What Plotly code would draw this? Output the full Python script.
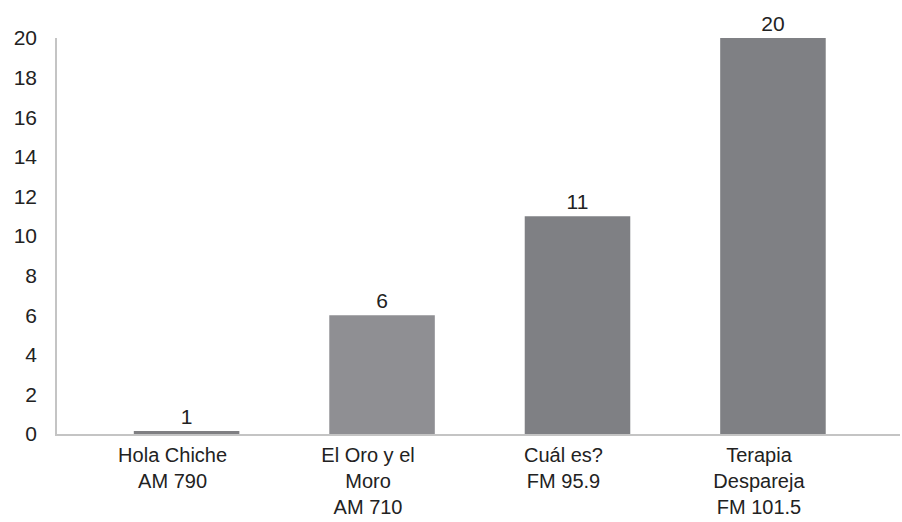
import plotly.graph_objects as go

categories = ["Hola Chiche<br>AM 790", "El Oro y el<br>Moro<br>AM 710",
              "Cuál es?<br>FM 95.9", "Terapia<br>Despareja<br>FM 101.5"]
bar_heights = [0.15, 6, 11, 20]
bar_labels = ["1", "6", "11", "20"]
bar_colors = ["#7f7f82", "#8f8f93", "#7f8084", "#7f8084"]
y_ticks = list(range(0, 21, 2))

FONT = "Liberation Sans, Arial, sans-serif"
FS = 21

fig = go.Figure(go.Bar(
    x=list(range(len(categories))), y=bar_heights,
    text=bar_labels, textposition="outside",
    textfont=dict(size=FS, color="#222222", family=FONT),
    marker=dict(color=bar_colors, line=dict(width=0)),
    width=0.54, cliponaxis=False,
))

fig.update_layout(
    width=902, height=522,
    margin=dict(l=57, r=2, t=38, b=88),
    plot_bgcolor="white", paper_bgcolor="white",
    showlegend=False,
    font=dict(family=FONT, size=FS, color="#222222"),
)
fig.update_xaxes(
    tickmode="array", tickvals=list(range(len(categories))), ticktext=categories,
    range=[-0.663, 3.65], showgrid=False, zeroline=False,
    showline=True, linecolor="#c4c4c4", linewidth=1.5,
    ticks="", ticklabelshift=-14, ticklabelstandoff=2, automargin=False,
    tickfont=dict(size=20, color="#222222", family=FONT),
)
fig.update_yaxes(
    range=[0, 20], tickmode="array", tickvals=y_ticks,
    showgrid=False, zeroline=False,
    showline=True, linecolor="#c4c4c4", linewidth=1.5,
    ticks="", ticklabelstandoff=14, automargin=False,
    tickfont=dict(size=FS, color="#222222", family=FONT),
)

fig.write_html("out.html", config={"displayModeBar": False},
               post_script="document.body.style.margin='0';document.body.style.overflow='hidden';")
